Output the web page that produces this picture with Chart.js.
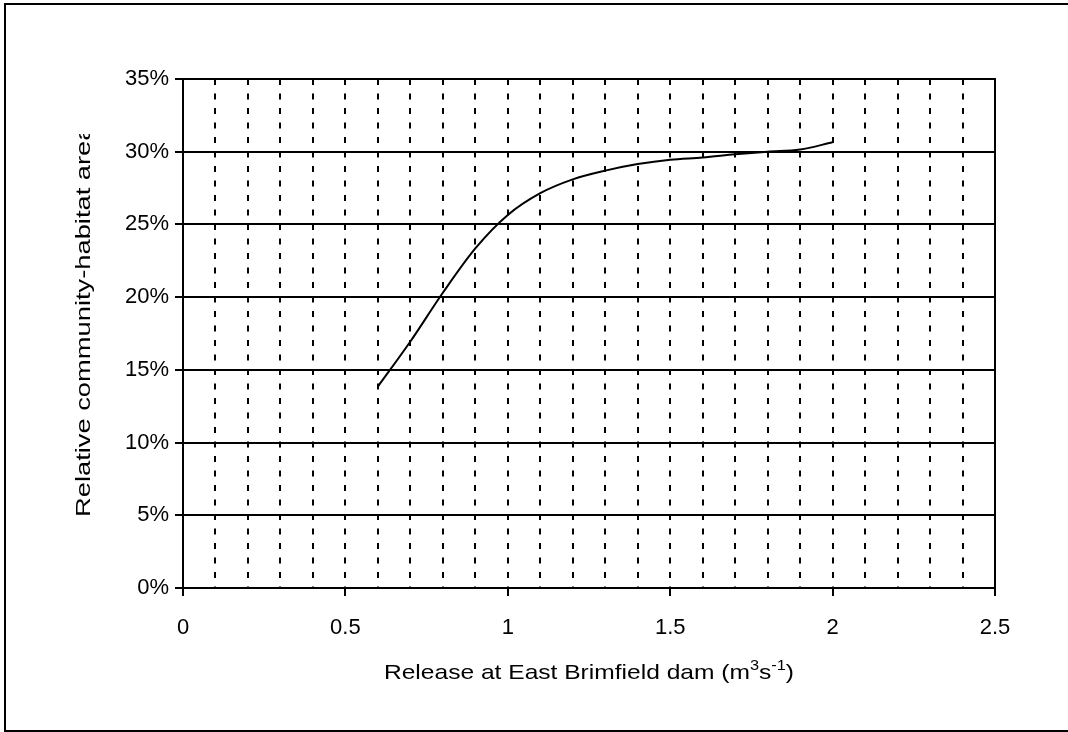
<!DOCTYPE html>
<html>
<head>
<meta charset="utf-8">
<script src="https://cdn.jsdelivr.net/npm/chart.js@4/dist/chart.umd.min.js"></script>
<style>
  html, body { margin: 0; padding: 0; background: #fff; }
  canvas { display: block; }
</style>
</head>
<body>
<canvas id="habitat-chart" width="1068" height="732"></canvas>
<script>
// values
const releaseFlow = [0.6, 0.7, 0.8, 0.9, 1.0, 1.1, 1.2, 1.3, 1.4, 1.5, 1.6, 1.7, 1.8, 1.9, 2.0];
const habitatArea = [13.85, 16.95, 20.3, 23.35, 25.65, 27.15, 28.1, 28.7, 29.15, 29.45, 29.6, 29.82, 30.0, 30.15, 30.65];
const xTickStep = 0.1;
const xLabelStep = 0.5;
const yTickStep = 5;

const xTitle = ['Release at East Brimfield dam (m', '3', 's', '-1', ')'];
const yTitle = 'Relative community-habitat area';

const FONT = '"Liberation Sans", Arial, sans-serif';

const isLabelTick = (v) => Math.abs(v / xLabelStep - Math.round(v / xLabelStep)) < 1e-6;

// frame, axis titles and the outer box
const decorations = {
    id: 'decorations',
    afterDraw(chart) {
        const { ctx, chartArea: a } = chart;
        ctx.save();
        ctx.strokeStyle = '#000';
        ctx.lineWidth = 2;
        ctx.strokeRect(a.left, a.top, a.right - a.left, a.bottom - a.top);

        ctx.beginPath();
        ctx.moveTo(1068, 4);
        ctx.lineTo(5, 4);
        ctx.lineTo(5, 731);
        ctx.lineTo(1068, 731);
        ctx.stroke();

        ctx.fillStyle = '#000';
        ctx.textBaseline = 'alphabetic';
        ctx.textAlign = 'left';

        // x title with superscripts
        const stretch = 1.17;
        const big = '21px ' + FONT;
        const small = '14px ' + FONT;
        const parts = xTitle.map((t, i) => ({ t, sup: i === 1 || i === 3 }));
        let total = 0;
        parts.forEach(p => {
            ctx.font = p.sup ? small : big;
            p.w = ctx.measureText(p.t).width * stretch;
            total += p.w;
        });
        let x = (a.left + a.right) / 2 - total / 2;
        const base = 679;
        parts.forEach(p => {
            ctx.font = p.sup ? small : big;
            ctx.save();
            ctx.translate(x, p.sup ? base - 9 : base);
            ctx.scale(stretch, 1);
            ctx.fillText(p.t, 0, 0);
            ctx.restore();
            x += p.w;
        });

        // y title, clipped at the top like the original
        ctx.save();
        ctx.beginPath();
        ctx.rect(0, 134, 160, 600);
        ctx.clip();
        ctx.translate(84, 517);
        ctx.rotate(-Math.PI / 2);
        ctx.scale(1.3, 1);
        ctx.font = big;
        ctx.textBaseline = 'middle';
        ctx.fillText(yTitle, 0, 0);
        ctx.restore();

        ctx.restore();
    }
};

new Chart(document.getElementById('habitat-chart'), {
    type: 'line',
    data: {
        datasets: [{
            data: releaseFlow.map((x, i) => ({ x, y: habitatArea[i] })),
            borderColor: '#000',
            borderWidth: 2,
            pointRadius: 0,
            cubicInterpolationMode: 'monotone',
            fill: false
        }]
    },
    options: {
        responsive: false,
        animation: false,
        devicePixelRatio: 1,
        layout: { padding: { top: 79, right: 73, left: 0, bottom: 0 } },
        plugins: { legend: { display: false }, tooltip: { enabled: false } },
        scales: {
            x: {
                type: 'linear',
                min: 0,
                max: 2.5,
                afterFit: (s) => { s.height = 144; },
                ticks: {
                    stepSize: xTickStep,
                    autoSkip: false,
                    maxRotation: 0,
                    padding: 19,
                    color: '#000',
                    font: { family: FONT, size: 22 },
                    callback: (v) => isLabelTick(v) ? String(Math.round(v * 10) / 10) : ''
                },
                grid: {
                    color: (c) => (c.tick && (c.tick.value <= 0 || c.tick.value >= 2.5)) ? 'rgba(0,0,0,0)' : '#000',
                    lineWidth: 2,
                    tickLength: 8,
                    tickWidth: 2,
                    tickColor: (c) => (c.tick && isLabelTick(c.tick.value)) ? '#000' : 'rgba(0,0,0,0)',
                    tickBorderDash: []
                },
                border: { color: '#000', width: 2, dash: [6, 8.5] }
            },
            y: {
                min: 0,
                max: 35,
                afterFit: (s) => { s.width = 183; },
                ticks: {
                    stepSize: yTickStep,
                    padding: 6,
                    color: '#000',
                    font: { family: FONT, size: 22 },
                    callback: (v) => v + '%'
                },
                grid: {
                    color: '#000',
                    lineWidth: 2,
                    tickLength: 8,
                    tickWidth: 2,
                    tickColor: '#000'
                },
                border: { color: '#000', width: 2 }
            }
        }
    },
    plugins: [decorations]
});
</script>
</body>
</html>
